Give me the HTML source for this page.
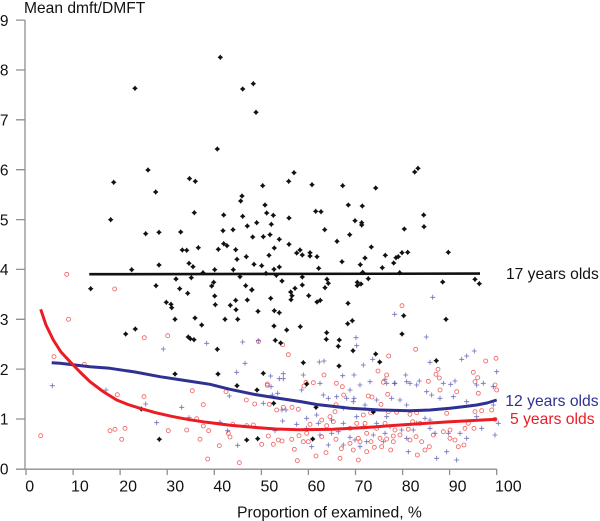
<!DOCTYPE html>
<html><head><meta charset="utf-8"><style>
html,body{margin:0;padding:0;background:#fff;}
svg{display:block;}
text{font-family:"Liberation Sans",Arial,sans-serif;}
</style></head><body>
<svg width="600" height="521" viewBox="0 0 600 521" xmlns="http://www.w3.org/2000/svg">
<defs>
<marker id="rc" markerWidth="8" markerHeight="8" refX="4" refY="4" markerUnits="userSpaceOnUse" overflow="visible"><circle cx="4" cy="4" r="2" fill="none" stroke="#f04848" stroke-width="0.85" stroke-opacity="0.85"/></marker>
<marker id="bp" markerWidth="8" markerHeight="8" refX="4" refY="4" markerUnits="userSpaceOnUse" overflow="visible"><path d="M1.5,4h5M4,1.5v5" stroke="#4a4aa8" stroke-width="0.8" stroke-opacity="0.8" fill="none"/></marker>
<marker id="kd" markerWidth="8" markerHeight="8" refX="4" refY="4" markerUnits="userSpaceOnUse" overflow="visible"><path d="M4,1.2l1.2,1.6 1.6,1.2-1.6,1.2-1.2,1.6-1.2,-1.6-1.6,-1.2 1.6,-1.2z" fill="#111"/></marker>
</defs>
<rect width="600" height="521" fill="#fff"/>
<g stroke="#8f8f8f" stroke-width="1.3" fill="none">
<path d="M25,20V469.2M16,469.2H496.7"/>
<path d="M16,20.1H25M16,70H25M16,119.8H25M16,169.7H25M16,219.6H25M16,269.4H25M16,319.3H25M16,369.1H25M16,419H25"/>
<path d="M26,469v6M73.1,469v6M120.1,469v6M167.2,469v6M214.3,469v6M261.4,469v6M308.4,469v6M355.5,469v6M402.6,469v6M449.6,469v6M496.7,469v6"/>
</g>
<g font-size="15.5" fill="#111" text-anchor="end">
<text x="8.5" y="25.8">9</text><text x="8.5" y="75.7">8</text><text x="8.5" y="125.5">7</text><text x="8.5" y="175.4">6</text><text x="8.5" y="225.3">5</text><text x="8.5" y="275.1">4</text><text x="8.5" y="325">3</text><text x="8.5" y="374.8">2</text><text x="8.5" y="424.7">1</text><text x="8.5" y="474.6">0</text>
</g>
<g font-size="16" fill="#111">
<text x="25.3" y="491.7">0</text><text x="71" y="491.7">10</text><text x="119.2" y="491.7">20</text><text x="166.3" y="491.7">30</text><text x="213.4" y="491.7">40</text><text x="260.5" y="491.7">50</text><text x="307.5" y="491.7">60</text><text x="354.6" y="491.7">70</text><text x="401.7" y="491.7">80</text><text x="448.7" y="491.7">90</text><text x="495" y="491.7">100</text>
</g>
<text x="24" y="12.8" font-size="15.6" fill="#111">Mean dmft/DMFT</text>
<text x="237" y="517.7" font-size="15.7" fill="#111">Proportion of examined, %</text>

<polyline fill="none" stroke="none" marker-start="url(#rc)" marker-mid="url(#rc)" marker-end="url(#rc)" points="66.7,274.3 68.5,319.3 114.7,289 144.3,337.7 167.7,335.7 258.5,341.5 54,356.7 84.3,364.3 40.7,435.7 282.7,344.7 288.3,354.7 402,305.7 415.7,349.3 388.7,356 378,371 386.7,375 324,375 438,369.3 436,374.3 439.3,378 428.3,381.3 383.3,382.3 336.3,383.3 306,382.3 267.3,384 496,358.3 485.7,361 473.3,372.3 477.7,377.7 475,381.7 117.3,394.7 144,396.7 110,430.7 115,429.3 125,428.3 121.7,439.3 168.3,430.7 192.3,390.7 203.3,404.7 196.7,418.7 186.7,430 203.3,426 208.7,430.7 200,439.3 207.7,459 219.3,445.7 226,391.7 232.7,424.3 228.3,433.3 230,437 239.3,462.7 246.3,400 246.7,425.7 253.3,425 254.7,404 267.3,385.3 269.3,404.3 268.3,436 261.7,444.3 273.3,444.3 278.3,440 282,441 283.3,407.3 276.7,410 292,407.3 291.7,439.3 294.3,449.3 297.3,460.7 298.3,409.3 299,435.7 304,386 313.3,382.7 342.3,386.7 343.7,395 336,404.7 335,411.7 326.7,425.7 321.7,436.7 308.3,441.7 336,439.3 341.3,448.7 316,456 326,452.7 340,458.3 358.3,460 350,443.3 358.3,438.3 360,441.7 366.7,433.3 365,423.3 376.7,428.3 370.7,412.7 368.3,396 372,397 387.7,394.3 388.3,411.7 390.7,450 381.7,446.7 380,438.3 393.3,441.7 400,435 410,440 416,436.7 417.3,455 425,450 421.7,441.7 429.3,446.7 433.3,435 446.7,413.3 450,430 443.3,431.7 450,438.3 455,440 458.3,446.7 464,445 465,428.3 474,428.3 468.3,423.3 475,411.7 481.7,410.7 478.3,393.3 495,385 496.7,390 410,414.3 396.7,412.3 416.7,412.7 440,390 456.7,391.7 491.7,410 495,419.3 412.7,421.7 420,423.3 408.3,429.3 363.3,415 356.7,423.3 350,428.3 333.3,421.7 330,416.7 321.7,420 310,424.3 306.7,433.3 303.3,441.7 386.7,439 393.3,436 395,430 385,423.3 381,404.3 371,441.7 374.3,447.3 353.3,450 366.7,451.7"/>

<polyline fill="none" stroke="none" marker-start="url(#bp)" marker-mid="url(#bp)" marker-end="url(#bp)" points="52.3,385.7 163.3,349 206.7,343.3 242.7,342 245,363.3 236.7,372.3 258.3,340.7 394.7,314.3 432.7,297.3 356,337.7 356.7,345.7 426.3,337 319.3,362 324,361 363.3,365 372.7,359.3 430,362.3 270.7,376 283.3,373.7 279.3,378.7 283.3,378.7 303.3,375 342.7,375.7 354,375 405.7,375 385,379.3 394.3,383.3 419.3,381 410,383.3 474.3,351 466.7,356 461.7,359.3 496.7,371.7 450.7,384.3 106,390 145.7,404 156.7,422.7 181.7,407.3 189,417.7 220,422.3 229.3,396 227.7,430.7 237.7,445.3 271,386.7 272.3,395 277.7,393.3 263.3,403.3 275,430.7 282.7,421 282,410 286,410 296.7,424.3 301.7,390 320,383.3 328.3,398.3 346.7,398.3 350,390 354,398.3 360,385 370,381.7 386.7,383.3 395,383.3 406.7,381.7 416.7,385 426.7,391.7 431.7,395 443.3,383.3 455,381 476.7,385 483.3,383.3 493.3,386.7 493.3,405 476.7,416.7 466.7,401.7 453.3,396.7 440,398.3 406.7,405 400,400 391.7,398.3 376.7,400 365,405 353.3,401.7 343.3,408.3 336.7,396.7 323.3,395 316.7,415 318.3,423.3 306.7,418.3 306.7,428.3 311.7,446.7 320,435 331.7,433.3 328.3,445 338.3,431.7 343.3,445 350,437.3 355,440 366.7,441.7 360,446.7 373.3,435 385,433.3 383.3,441.7 390,426.7 401.7,430 408.3,451.7 406.7,438.3 413.3,430 416.7,423.3 425,418.3 430,420 435,433.3 436.7,458.3 446.7,451.7 448.3,433.3 456.7,460 460,433.3 466.7,438.3 481.7,428.3 495,435 498.3,423.3 430,428.3 386.7,416.7 376.7,423.3 363.3,426.7 343.3,423.3 331.7,420 356.7,416.7"/>

<polyline fill="none" stroke="none" marker-start="url(#kd)" marker-mid="url(#kd)" marker-end="url(#kd)" points="135,88.3 148,170 189.5,178.6 220.3,57.3 242.7,89 253.3,83.7 256,112.3 217.3,149 113.7,182.3 195.3,181.3 155.7,192 242,196 240.7,201 110.7,219.7 194.3,212.7 223.7,215 242.7,216.3 256.7,222.7 247.3,226 145.7,233.7 159,232.3 180.7,232 223,230.7 233,229.7 252.7,237 223.7,243.7 227,245.7 182.3,250 186.7,250.3 198.3,247.7 218.3,249.3 235.7,249.7 237,259.3 246.3,256.7 189,263.3 193,266.7 159,265 131.7,269.7 214.7,269.7 233.3,269.7 254,264.3 203,272.7 176,279 191.3,277.7 240,276.7 294,172.7 262.7,185.7 288.7,181.3 312,184.7 342.7,185.7 375.7,188 414.7,172 418,168.3 265,205 266.7,213 273.3,215.3 271.3,224.3 289,218 315.7,211.3 321,211.7 348.3,205 362.3,206 355,220.7 361.7,222.7 361.7,225 423.7,215 424,226.7 404.3,229 263.3,236.7 270,234.7 279.3,239.3 324.7,229.7 349.7,234.7 337,241.3 289,244.3 274.3,248 269,255.3 300,250 296.7,253 302.3,255 310,252.7 310,256 317,256.7 371.3,247 365,258 385.3,255.3 396,257.7 398.3,256.7 402,252.7 407.7,252.3 448.3,252.3 261.7,265.7 274,269.3 279.3,267 318.7,268.3 342,261.7 360.3,264.7 393.7,263 382.3,267.7 266,273.3 276.3,275.3 302.3,277 327,279.3 362.7,272.3 368.3,278.7 399.7,272.7 442.7,282 475,279.3 479.3,283.7 446,319.3 90.7,288.7 156,285.7 179.7,288.7 187.7,293.3 211.7,286 213.7,282.3 214.7,296 215.3,304.7 245.7,285.7 251.7,290 247.3,300 235.7,300.3 230.3,305.3 236,309.7 258,311.3 166.3,302.3 171,304.3 171.7,307.7 175,319.3 195,318 201.7,325 225,319.3 237.7,319.3 135.3,329 125.7,334 188.3,337 190.3,338.7 194,339.7 217.3,349.3 175,374 218,374 282,281 302.3,285 328.3,283.3 325,287.7 357.3,282.3 361,284 357.3,285.5 252,289.7 290.7,292 295,288.3 292,295.7 291,299.7 308.7,295.7 270.7,298.3 317,302 320.3,300.3 348,303.3 274.3,310.7 279.3,312.7 403.7,315.7 274,326 286.7,330 300.3,326.7 347.7,323.7 352.3,320.7 326.7,332.7 326.3,339.3 339.3,340 338.3,346.3 353,350.7 402,334 275.3,340.3 280.7,343 375.7,354 379.7,362 303.3,362.7 339,366 436.3,360.7 263.3,373.3 306.7,384 141.3,409 159.3,439.3 237,385.7 257,390 246.7,440 257.7,438.7 273.7,403.3 316,407.3 312.7,439 373.3,412"/>

<path d="M89.3,274.2L480,273.6" stroke="#111" stroke-width="2.6" fill="none"/>
<polyline fill="none" stroke="#2e3192" stroke-width="3" stroke-linejoin="round" points="51.7,362.7 60,363.3 90,366.7 110,368.3 135,372 160,376.7 185,380.5 210,384.3 230,389.3 255,394.5 280,398.5 300,401.5 316.7,404.5 350,408.3 380,410 410,410.7 430,410 450,408.3 465,406.5 476.7,405 487,403 496.7,400"/>
<polyline fill="none" stroke="#ed1c24" stroke-width="3" stroke-linejoin="round" points="40.7,309.3 46,325 53.3,340 61,352 70,361.7 80,372 90,381.7 103,391.5 116.7,400 128,404.5 140,408.3 156,412.8 173.3,416.7 190,419.8 206.7,422.3 230,425.2 253.3,427.3 276,429 300,429.8 333.3,429.3 366,427.5 400,425 450,421.7 496.7,419.3"/>

<text x="506" y="279" font-size="15.6" fill="#111">17 years olds</text>
<text x="505.3" y="406" font-size="15.7" fill="#2e3192">12 years olds</text>
<text x="510" y="424" font-size="15.7" fill="#ed1c24">5 years olds</text>
</svg>
</body></html>
